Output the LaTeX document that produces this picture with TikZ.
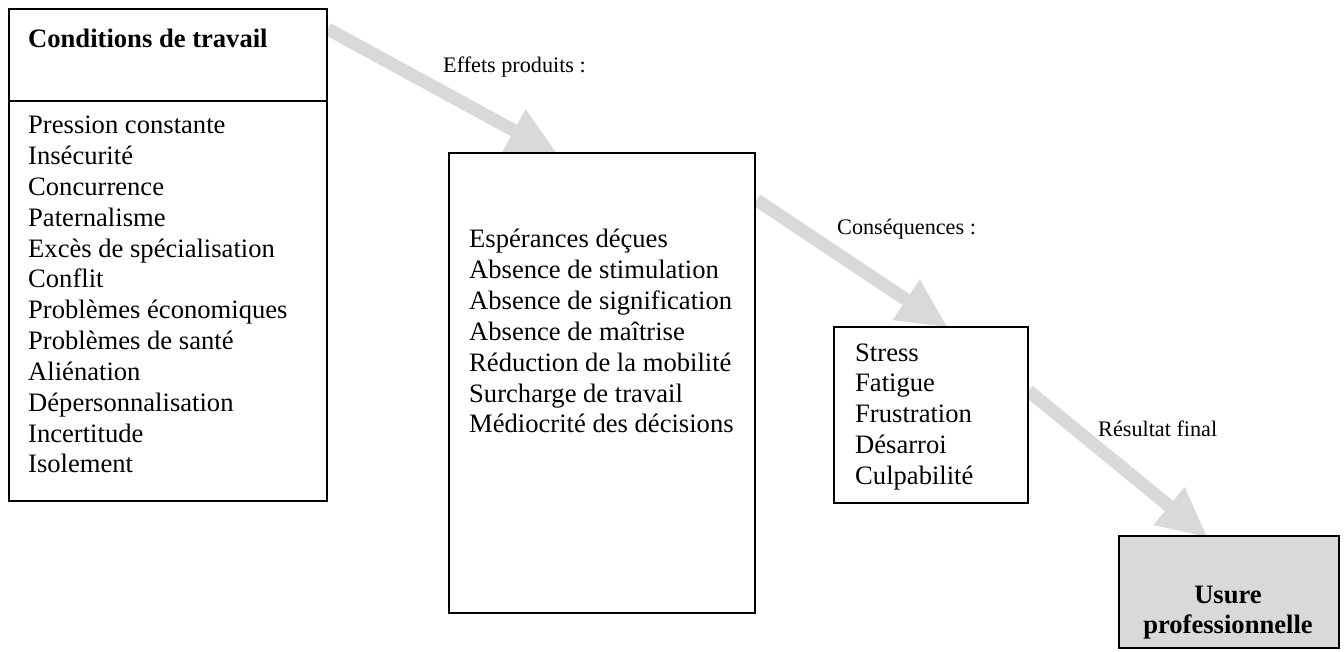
\documentclass[tikz,border=0pt]{standalone}
\usepackage{fontspec}
\setmainfont{Liberation Serif}
\usetikzlibrary{calc,arrows.meta,backgrounds}

\definecolor{arrowgray}{HTML}{D9D9D9}

\tikzset{
  box/.style={draw=black, line width=1.6pt, fill=white, inner sep=0pt, anchor=north west},
  listline/.style={anchor=base west, inner sep=0pt, font=\fontsize{26.6}{30.8}\selectfont},
  titleline/.style={listline, font=\fontsize{26.6}{30.8}\selectfont\bfseries},
  smalllabel/.style={anchor=base west, inner sep=0pt, font=\fontsize{22.2}{25.5}\selectfont},
  blockarrow/.style={draw=arrowgray, line width=13pt,
    -{Triangle[width=49pt,length=49pt,line width=0pt,fill=arrowgray]}}
}

\begin{document}
\begin{tikzpicture}[x=1pt, y=-1pt]
  \useasboundingbox (0,0) rectangle (1344,652);

  % boxes
  \node[box, minimum width=318pt, minimum height=492pt] (cond) at (8,8) {};
  \node[box, minimum width=306pt, minimum height=460pt] (eff) at (448,152) {};
  \node[box, minimum width=194pt, minimum height=176pt] (cons) at (833,326) {};
  \node[box, fill=arrowgray, minimum width=220pt, minimum height=112pt] (usure) at (1118,535) {};

  % header divider of the first box
  \draw[line width=1.6pt] ($(cond.north west)+(0,93)$) -- ($(cond.north east)+(0,93)$);

  % first box: title and list
  \node[titleline] (condtitle) at (28,48) {Conditions de travail};
  \foreach \t [count=\i from 0] in {Pression constante, Insécurité, Concurrence,
      Paternalisme, Excès de spécialisation, Conflit, Problèmes économiques,
      Problèmes de santé, Aliénation, Dépersonnalisation, Incertitude, Isolement}
    \node[listline] (cond-\i) at (28,134+30.8*\i) {\t};

  % second box
  \foreach \t [count=\i from 0] in {Espérances déçues, Absence de stimulation,
      Absence de signification, Absence de maîtrise, Réduction de la mobilité,
      Surcharge de travail, Médiocrité des décisions}
    \node[listline] (eff-\i) at (469,248+30.8*\i) {\t};

  % third box
  \foreach \t [count=\i from 0] in {Stress, Fatigue, Frustration, Désarroi, Culpabilité}
    \node[listline] (cons-\i) at (855,361+30.8*\i) {\t};

  % final box
  \node[titleline, anchor=base] (usure-1) at (1228,603) {Usure};
  \node[titleline, anchor=base] (usure-2) at (1228,633) {professionnelle};

  % labels along the arrows
  \node[smalllabel] (lab1) at (443,73) {Effets produits :};
  \node[smalllabel] (lab2) at (837,235) {Conséquences :};
  \node[smalllabel] (lab3) at (1098,436) {Résultat final};

  % block arrows, behind the boxes
  \begin{pgfonlayer}{background}
    \draw[blockarrow] ($(cond.north east)+(0,21)$) -- ($(eff.north west)+(109,2)$);
    \draw[blockarrow] ($(eff.north east)+(1,48)$) -- ($(cons.north west)+(114,1)$);
    \draw[blockarrow] ($(cons.north east)+(0,65)$) -- ($(usure.north west)+(89,2)$);
  \end{pgfonlayer}
\end{tikzpicture}
\end{document}
